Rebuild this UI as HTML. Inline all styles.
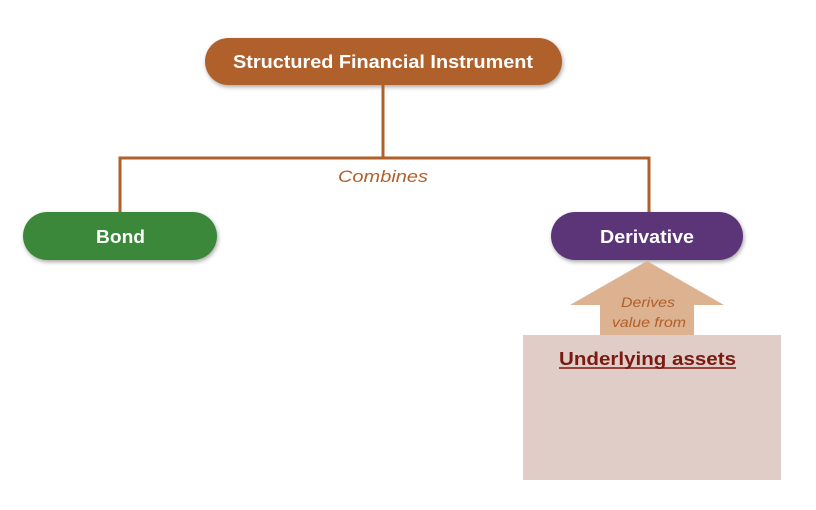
<!DOCTYPE html>
<html><head><style>
body{margin:0;width:816px;height:510px;background:#fff;position:relative;overflow:hidden;font-family:"Liberation Sans",sans-serif}
.n{position:absolute;border-radius:24px;box-shadow:1px 2px 4px rgba(0,0,0,.35)}
svg{position:absolute;left:0;top:0}
</style></head><body>
<div class="n" style="left:205px;top:38px;width:357px;height:47px;background:#b0602a"></div>
<div class="n" style="left:23px;top:212px;width:194px;height:48px;background:#3c883a"></div>
<div class="n" style="left:551px;top:212px;width:192px;height:48px;background:#5b3577"></div>
<svg width="816" height="510">
<path d="M383 85V158M120 212V158H649V212" stroke="#b0602a" stroke-width="3" fill="none"/>
<rect x="523" y="335" width="258" height="145" fill="#e0cdc8"/>
<polygon points="647,261 724,305 694,305 694,335 600,335 600,305 570,305" fill="#dcb291"/>
<g font-family="Liberation Sans" font-weight="bold" font-size="18" fill="#fff">
<text x="233" y="68" textLength="300" lengthAdjust="spacingAndGlyphs">Structured Financial Instrument</text>
<text x="96" y="243" textLength="49" lengthAdjust="spacingAndGlyphs">Bond</text>
<text x="600" y="243" textLength="94" lengthAdjust="spacingAndGlyphs">Derivative</text>
</g>
<g font-family="Liberation Sans" font-style="italic" fill="#b0602a">
<text x="338" y="182" font-size="17" textLength="90" lengthAdjust="spacingAndGlyphs">Combines</text>
<text x="621" y="307" font-size="14" textLength="54" lengthAdjust="spacingAndGlyphs">Derives</text>
<text x="612" y="327" font-size="14" textLength="74" lengthAdjust="spacingAndGlyphs">value from</text>
</g>
<text x="559" y="365" font-family="Liberation Sans" font-weight="bold" font-size="18" fill="#7a1a10" textLength="177" lengthAdjust="spacingAndGlyphs">Underlying assets</text>
<line x1="559" y1="368" x2="736" y2="368" stroke="#7a1a10" stroke-width="1.5"/>
</svg>
</body></html>
